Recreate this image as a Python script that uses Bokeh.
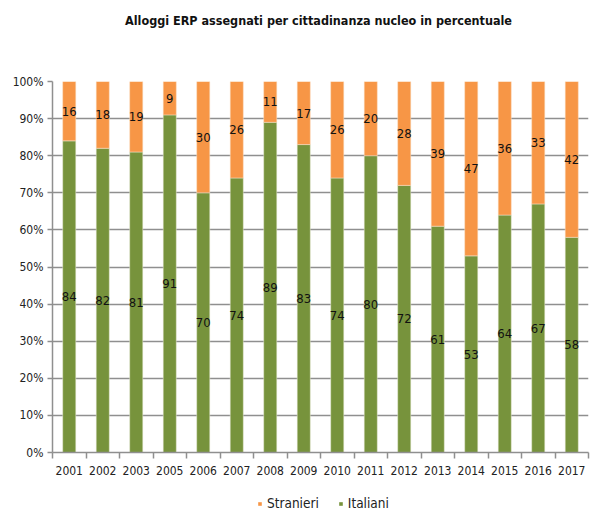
from bokeh.plotting import figure
from bokeh.layouts import column
from bokeh.models import ColumnDataSource, FixedTicker, Legend, LegendItem, Range1d, Div
from bokeh.core.properties import value
from bokeh.embed import file_html
from bokeh.resources import INLINE

years = ["2001", "2002", "2003", "2005", "2006", "2007", "2008", "2009",
         "2010", "2011", "2012", "2013", "2014", "2015", "2016", "2017"]
italiani = [84, 82, 81, 91, 70, 74, 89, 83, 74, 80, 72, 61, 53, 64, 67, 58]
stranieri = [16, 18, 19, 9, 30, 26, 11, 17, 26, 20, 28, 39, 47, 36, 33, 42]
y_ticks = [0, 10, 20, 30, 40, 50, 60, 70, 80, 90, 100]
title_text = "Alloggi ERP assegnati per cittadinanza nucleo in percentuale"

GREEN = "#77933C"
ORANGE = "#F79646"
FONT = "DejaVu Sans Condensed"

n = len(years)
xs = [i + 0.5 for i in range(n)]
src = ColumnDataSource(dict(
    x=xs,
    top_it=italiani,
    top_st=[a + b for a, b in zip(italiani, stranieri)],
    y_it=[a / 2 for a in italiani],
    y_st=[a + b / 2 for a, b in zip(italiani, stranieri)],
    lab_it=[str(v) for v in italiani],
    lab_st=[str(v) for v in stranieri],
))

title_div = Div(text=title_text, width=590, height=40, margin=0,
                styles={"font-family": FONT, "font-size": "12.5px", "font-weight": "bold",
                        "color": "#111111", "padding-left": "125px", "padding-top": "12px",
                        "white-space": "nowrap", "box-sizing": "border-box"})

p = figure(width=590, height=445, output_backend="svg", toolbar_location=None,
           x_range=Range1d(0, n), y_range=Range1d(0, 100),
           min_border_left=52, min_border_right=2, min_border_top=41, min_border_bottom=33)
p.title.visible = False

p.outline_line_color = None
p.xgrid.grid_line_color = None
p.ygrid.grid_line_color = "#8f8f8f"
p.ygrid.grid_line_width = 1.5
p.yaxis.ticker = FixedTicker(ticks=y_ticks)
p.yaxis.major_label_overrides = {t: f"{t}%" for t in y_ticks}
p.yaxis.major_label_text_font = FONT
p.yaxis.major_label_text_font_size = "12px"
p.yaxis.major_label_text_color = "#222222"
p.yaxis.major_label_standoff = 4
p.yaxis.axis_line_color = "#8f8f8f"
p.yaxis.axis_line_width = 1.5
p.yaxis.major_tick_line_color = "#8f8f8f"
p.yaxis.major_tick_line_width = 1.5
p.yaxis.major_tick_in = 0
p.yaxis.major_tick_out = 5
p.yaxis.minor_tick_line_color = None

p.xaxis.ticker = FixedTicker(ticks=xs, minor_ticks=list(range(n + 1)))
p.xaxis.major_label_overrides = {x: y for x, y in zip(xs, years)}
p.xaxis.major_label_text_font = FONT
p.xaxis.major_label_text_font_size = "12px"
p.xaxis.major_label_text_color = "#222222"
p.xaxis.major_label_standoff = 7
p.xaxis.major_tick_line_color = None
p.xaxis.minor_tick_line_color = "#8f8f8f"
p.xaxis.minor_tick_line_width = 1.5
p.xaxis.minor_tick_in = 0
p.xaxis.minor_tick_out = 6
p.xaxis.axis_line_color = "#8f8f8f"
p.xaxis.axis_line_width = 1.5

r_it = p.vbar(x="x", bottom=0, top="top_it", width=0.39, source=src,
              fill_color=GREEN, line_color="#e8ead8", line_width=0.5)
r_st = p.vbar(x="x", bottom="top_it", top="top_st", width=0.39, source=src,
              fill_color=ORANGE, line_color="#fbe0c8", line_width=0.5)

for ycol, lcol in (("y_it", "lab_it"), ("y_st", "lab_st")):
    p.text(x="x", y=ycol, text=lcol, source=src, text_align="center",
           text_baseline="middle", text_font=value(FONT), text_font_size="13px",
           text_color="#111111")

# legend strip below the chart
lf = figure(width=590, height=30, output_backend="svg", toolbar_location=None,
            x_range=Range1d(0, 1), y_range=Range1d(0, 1),
            x_axis_location=None, y_axis_location=None,
            min_border_left=0, min_border_right=0, min_border_top=0, min_border_bottom=0)
lf.outline_line_color = None
lf.xgrid.grid_line_color = None
lf.ygrid.grid_line_color = None
offscreen = ColumnDataSource(dict(x=[5.0], y=[5.0]))
l_st = lf.scatter(x="x", y="y", marker="square", size=9, source=offscreen,
                  fill_color=ORANGE, line_color=None)
l_it = lf.scatter(x="x", y="y", marker="square", size=9, source=offscreen,
                  fill_color=GREEN, line_color=None)

legend = Legend(items=[LegendItem(label="Stranieri", renderers=[l_st]),
                       LegendItem(label="Italiani", renderers=[l_it])],
                orientation="horizontal", location=(203, 4),
                label_text_font=FONT, label_text_font_size="13.5px",
                label_text_color="#222222", label_height=12,
                glyph_width=9, glyph_height=9, spacing=17, label_standoff=3,
                border_line_color=None, background_fill_alpha=0,
                margin=0, padding=0)
lf.add_layout(legend)

open("out.html", "w").write(file_html(column(title_div, p, lf, spacing=0), INLINE))
